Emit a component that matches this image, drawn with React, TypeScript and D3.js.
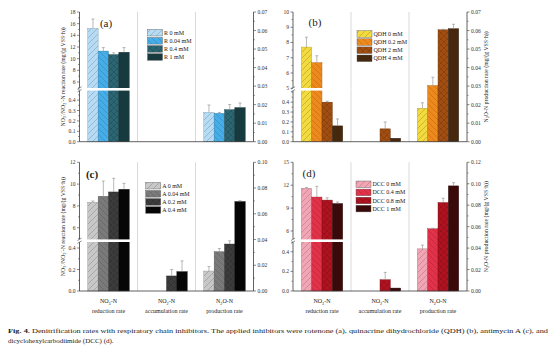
import React from "react";
import * as d3 from "d3";

const categories = ["NO3", "NO2", "N2O"];

const seriesA = ["R 0 mM", "R 0.04 mM", "R 0.4 mM", "R 1 mM"];
const valuesA = [[15.2, 11.3, 10.7, 11.1], [0, 0, 0, 0], [0.0158, 0.0153, 0.0173, 0.0184]];
const errorsA = [[1.6, 0.6, 0.3, 0.8], [0, 0, 0, 0], [0.004, 0.0005, 0.0028, 0.0025]];

const seriesB = ["QDH 0 mM", "QDH 0.2 mM", "QDH 2 mM", "QDH 4 mM"];
const valuesB = [[7.7, 6.68, 0.4, 0.16], [0, 0, 0.13, 0.035], [0.018, 0.0303, 0.0604, 0.061]];
const errorsB = [[0.65, 0.45, 0.01, 0.07], [0, 0, 0.07, 0], [0.003, 0.0045, 0.0003, 0.0024]];

const seriesC = ["A 0 mM", "A 0.04 mM", "A 0.2 mM", "A 0.4 mM"];
const valuesC = [[8.33, 8.88, 9.28, 9.52], [0, 0, 0.14, 0.18], [0.0155, 0.0305, 0.0365, 0.0695]];
const errorsC = [[0.12, 1.4, 1.25, 0.55], [0, 0, 0.06, 0.1], [0.0035, 0.0025, 0.0025, 0.0007]];

const seriesD = ["DCC 0 mM", "DCC 0.4 mM", "DCC 0.8 mM", "DCC 1 mM"];
const valuesD = [[11.6, 10.45, 10.05, 9.6], [0, 0, 0.115, 0.03], [0.0393, 0.058, 0.0825, 0.098]];
const errorsD = [[0.1, 1.4, 0.3, 0.2], [0, 0, 0.075, 0], [0.0035, 0.0005, 0.004, 0.003]];

const upperTicksA = [6, 8, 10, 12, 14, 16, 18];
const lowerTicksA = [0, 0.1, 0.2, 0.3, 0.4];
const rightTicksA = [0, 0.01, 0.02, 0.03, 0.04, 0.05, 0.06, 0.07];
const upperTicksB = [5, 6, 7, 8, 9, 10];
const lowerTicksB = [0, 0.1, 0.2, 0.3, 0.4];
const rightTicksB = [0, 0.01, 0.02, 0.03, 0.04, 0.05, 0.06, 0.07];
const upperTicksC = [6, 8, 10, 12];
const lowerTicksC = [0, 0.2, 0.4];
const rightTicksC = [0, 0.02, 0.04, 0.06, 0.08, 0.1];
const upperTicksD = [6, 9, 12, 15];
const lowerTicksD = [0, 0.2, 0.4];
const rightTicksD = [0, 0.02, 0.04, 0.06, 0.08, 0.1, 0.12];

const FONT = "'Liberation Serif', 'DejaVu Serif', serif";

type Cfg = {
  id: string;
  x0: number; x1: number; yTop: number; yBot: number; breakY: number;
  lower: [number, number]; upper: [number, number]; right: [number, number];
  upperTicks: number[]; upperMinor: number; lowerTicks: number[]; lowerMinor: number;
  rightTicks: number[]; rightMinor: number;
  values: number[][]; errors: number[][]; series: string[]; colors: string[];
  legendX: number; legendY: number; label: string; labelX: number; labelY: number; labelBold?: boolean;
  leftLabel: boolean; rightLabel: boolean; catLabels: boolean;
};

const hatch = ["M-1,1 L1,-1 M0,6 L6,0 M5,7 L7,5", "M-1,5 L1,7 M0,0 L6,6 M5,-1 L7,1", "M-1,1 L1,-1 M0,6 L6,0 M5,7 L7,5 M-1,5 L1,7 M0,0 L6,6 M5,-1 L7,1", ""];

function Chem({ base, sub, rest, fs }: { base: string; sub: string; rest: string; fs: number }) {
  return (
    <>
      {base}
      <tspan dy={fs * 0.25} fontSize={fs * 0.7}>{sub}</tspan>
      <tspan dy={-fs * 0.25}>{rest}</tspan>
    </>
  );
}

function Panel({ c }: { c: Cfg }) {
  const yLow = d3.scaleLinear().domain(c.lower).range([c.yBot, c.breakY]);
  const yUp = d3.scaleLinear().domain(c.upper).range([c.breakY, c.yTop]);
  const yR = d3.scaleLinear().domain(c.right).range([c.yBot, c.yTop]);
  const yLeft = (v: number) => (v <= c.lower[1] ? yLow(v) : yUp(Math.max(v, c.upper[0])));
  const gx = d3.scaleBand<string>().domain(categories).range([c.x0, c.x1]);
  const bx = d3.scaleBand<string>().domain(c.series).range([0, gx.bandwidth()]).paddingOuter(0.8);
  const sep1 = c.x0 + gx.bandwidth();
  const fs = 5.6;
  const ax = "#3a3a3a";

  const minorTicks = (ticks: number[], step: number, dom: [number, number]) => {
    if (!step) return [];
    const out: number[] = [];
    for (let v = dom[0] - (dom[0] % step); v <= dom[1] + 1e-9; v += step) {
      if (v >= dom[0] - 1e-9 && !ticks.some((t) => Math.abs(t - v) < 1e-9)) out.push(v);
    }
    return out;
  };

  return (
    <g>
      <defs>
        {c.colors.map((col, i) => (
          <pattern key={i} id={`${c.id}-p${i}`} patternUnits="userSpaceOnUse" width={6} height={6}>
            <rect width={6} height={6} fill={col} />
            {hatch[i] && <path d={hatch[i]} stroke={d3.color(col)!.darker(i === 0 ? 0.9 : 0.7).toString()} strokeWidth={0.6} fill="none" />}
          </pattern>
        ))}
      </defs>
      {/* separators */}
      {[1, 2].map((k) => (
        <line key={k} x1={c.x0 + k * gx.bandwidth()} x2={c.x0 + k * gx.bandwidth()} y1={c.yTop} y2={c.yBot} stroke="#cfcfcf" strokeWidth={0.8} />
      ))}
      {/* bars */}
      {categories.map((cat, ci) =>
        c.series.map((s, si) => {
          const v = c.values[ci][si];
          if (!v) return null;
          const e = c.errors[ci][si];
          const sc = ci === 2 ? yR : yLeft;
          const x = (gx(cat) as number) + (bx(s) as number);
          const w = bx.bandwidth();
          const yv = sc(v);
          const ye = sc(v + e);
          return (
            <g key={cat + s}>
              <rect x={x} y={yv} width={w} height={c.yBot - yv} fill={`url(#${c.id}-p${si})`} stroke={d3.color(c.colors[si])!.darker(1).toString()} strokeWidth={0.4} />
              {e > 0 && (
                <g stroke="#8a8a8a" strokeWidth={0.6}>
                  <line x1={x + w / 2} x2={x + w / 2} y1={yv} y2={ye} />
                  <line x1={x + w / 2 - 1.5} x2={x + w / 2 + 1.5} y1={ye} y2={ye} />
                </g>
              )}
            </g>
          );
        })
      )}
      {/* break band */}
      <rect x={c.x0 + 0.5} y={c.breakY - 1.3} width={sep1 - c.x0 - 1} height={2.6} fill="#ffffff" />
      {/* axes */}
      <line x1={c.x0} x2={c.x0} y1={c.yTop} y2={c.breakY - 1.5} stroke={ax} strokeWidth={0.8} />
      <line x1={c.x0} x2={c.x0} y1={c.breakY + 1.5} y2={c.yBot} stroke={ax} strokeWidth={0.8} />
      <line x1={c.x0 - 2} x2={c.x0 + 2} y1={c.breakY - 0.2} y2={c.breakY - 2.6} stroke={ax} strokeWidth={0.6} />
      <line x1={c.x0 - 2} x2={c.x0 + 2} y1={c.breakY + 2.6} y2={c.breakY + 0.2} stroke={ax} strokeWidth={0.6} />
      <line x1={c.x1} x2={c.x1} y1={c.yTop} y2={c.yBot} stroke={ax} strokeWidth={0.8} />
      <line x1={c.x0} x2={c.x1} y1={c.yBot} y2={c.yBot} stroke={ax} strokeWidth={0.8} />
      {/* left ticks */}
      {c.upperTicks.map((t) => (
        <g key={"u" + t}>
          <line x1={c.x0 - 2.5} x2={c.x0} y1={yUp(t)} y2={yUp(t)} stroke={ax} strokeWidth={0.6} />
          <text x={c.x0 - 4} y={yUp(t) + 2} fontSize={fs} textAnchor="end" fill="#333">{t}</text>
        </g>
      ))}
      {minorTicks(c.upperTicks, c.upperMinor, c.upper).map((t) => (
        <line key={"um" + t} x1={c.x0 - 1.5} x2={c.x0} y1={yUp(t)} y2={yUp(t)} stroke={ax} strokeWidth={0.5} />
      ))}
      {c.lowerTicks.map((t) => (
        <g key={"l" + t}>
          <line x1={c.x0 - 2.5} x2={c.x0} y1={yLow(t)} y2={yLow(t)} stroke={ax} strokeWidth={0.6} />
          <text x={c.x0 - 4} y={yLow(t) + 2} fontSize={fs} textAnchor="end" fill="#333">{d3.format(".1f")(t)}</text>
        </g>
      ))}
      {minorTicks(c.lowerTicks, c.lowerMinor, c.lower).map((t) => (
        <line key={"lm" + t} x1={c.x0 - 1.5} x2={c.x0} y1={yLow(t)} y2={yLow(t)} stroke={ax} strokeWidth={0.5} />
      ))}
      {/* right ticks */}
      {c.rightTicks.map((t) => (
        <g key={"r" + t}>
          <line x1={c.x1} x2={c.x1 + 2.5} y1={yR(t)} y2={yR(t)} stroke={ax} strokeWidth={0.6} />
          <text x={c.x1 + 4} y={yR(t) + 2} fontSize={fs} textAnchor="start" fill="#333">{d3.format(".2f")(t)}</text>
        </g>
      ))}
      {minorTicks(c.rightTicks, c.rightMinor, c.right).map((t) => (
        <line key={"rm" + t} x1={c.x1} x2={c.x1 + 1.5} y1={yR(t)} y2={yR(t)} stroke={ax} strokeWidth={0.5} />
      ))}
      {/* panel label */}
      <text x={c.labelX} y={c.labelY} fontSize={11} textAnchor="middle" fontWeight={c.labelBold ? "bold" : "normal"} fill="#222">{c.label}</text>
      {/* legend */}
      {c.series.map((s, i) => (
        <g key={"lg" + s}>
          <rect x={c.legendX} y={c.legendY + i * 8.1 - 3.3} width={15} height={6.6} fill={`url(#${c.id}-p${i})`} stroke="#555" strokeWidth={0.4} />
          <text x={c.legendX + 16.5} y={c.legendY + i * 8.1 + 2} fontSize={6} fill="#222">{s}</text>
        </g>
      ))}
      {/* axis titles */}
      {c.leftLabel && (
        <text transform={`translate(${c.x0 - 15},${(c.yTop + c.yBot) / 2}) rotate(-90)`} fontSize={5.8} textAnchor="middle" fill="#222">
          NO<tspan dy={1.4} fontSize={4}>3</tspan><tspan dy={-3.4} fontSize={4}>-</tspan><tspan dy={2}>/NO</tspan>
          <tspan dy={1.4} fontSize={4}>2</tspan><tspan dy={-3.4} fontSize={4}>-</tspan><tspan dy={2}>-N reaction rate (mg/(g VSS·h))</tspan>
        </text>
      )}
      {c.rightLabel && (
        <text transform={`translate(${c.x1 + 21},${(c.yTop + c.yBot) / 2}) rotate(-90)`} fontSize={5.8} textAnchor="middle" fill="#222">
          <Chem base="N" sub="2" rest="O-N production rate (mg/(g VSS·h))" fs={5.8} />
        </text>
      )}
      {c.catLabels && (
        <g fontSize={6} fill="#222" textAnchor="middle">
          <text x={(gx("NO3") as number) + gx.bandwidth() / 2} y={c.yBot + 12}><Chem base="NO" sub="3" rest="-N" fs={6} /></text>
          <text x={(gx("NO3") as number) + gx.bandwidth() / 2} y={c.yBot + 22}>reduction rate</text>
          <text x={(gx("NO2") as number) + gx.bandwidth() / 2} y={c.yBot + 12}><Chem base="NO" sub="2" rest="-N" fs={6} /></text>
          <text x={(gx("NO2") as number) + gx.bandwidth() / 2} y={c.yBot + 22}>accumulation rate</text>
          <text x={(gx("N2O") as number) + gx.bandwidth() / 2} y={c.yBot + 12}><Chem base="N" sub="2" rest="O-N" fs={6} /></text>
          <text x={(gx("N2O") as number) + gx.bandwidth() / 2} y={c.yBot + 22}>production rate</text>
        </g>
      )}
    </g>
  );
}

const LX0 = 79.5, LX1 = 253.5, RX0 = 293, RX1 = 467;

const panels: Cfg[] = [
  {
    id: "a", x0: LX0, x1: LX1, yTop: 12, yBot: 141.7, breakY: 89.3,
    lower: [0, 0.504], upper: [4.75, 18], right: [0, 0.07],
    upperTicks: upperTicksA, upperMinor: 1, lowerTicks: lowerTicksA, lowerMinor: 0.05, rightTicks: rightTicksA, rightMinor: 0.005,
    values: valuesA, errors: errorsA, series: seriesA, colors: ["#b5dcf4", "#45ade8", "#2b6673", "#173a3f"],
    legendX: 147.5, legendY: 32.7, label: "(a)", labelX: 106, labelY: 27, leftLabel: true, rightLabel: false, catLabels: false,
  },
  {
    id: "b", x0: RX0, x1: RX1, yTop: 12, yBot: 141.7, breakY: 89.3,
    lower: [0, 0.53], upper: [4.93, 10], right: [0, 0.07],
    upperTicks: upperTicksB, upperMinor: 0.5, lowerTicks: lowerTicksB, lowerMinor: 0.05, rightTicks: rightTicksB, rightMinor: 0.005,
    values: valuesB, errors: errorsB, series: seriesB, colors: ["#f3da3e", "#ee8a1d", "#a24e12", "#45280e"],
    legendX: 357, legendY: 34, label: "(b)", labelX: 315, labelY: 26, leftLabel: false, rightLabel: true, catLabels: false,
  },
  {
    id: "c", x0: LX0, x1: LX1, yTop: 162.3, yBot: 291, breakY: 240.7,
    lower: [0, 0.468], upper: [4.81, 12], right: [0, 0.1],
    upperTicks: upperTicksC, upperMinor: 1, lowerTicks: lowerTicksC, lowerMinor: 0.1, rightTicks: rightTicksC, rightMinor: 0.01,
    values: valuesC, errors: errorsC, series: seriesC, colors: ["#c8c8c8", "#7a7a7a", "#3c3c3c", "#060606"],
    legendX: 145.7, legendY: 185.7, label: "(c)", labelX: 92, labelY: 178, labelBold: true, leftLabel: true, rightLabel: false, catLabels: true,
  },
  {
    id: "d", x0: RX0, x1: RX1, yTop: 162.3, yBot: 291, breakY: 240.7,
    lower: [0, 0.513], upper: [4.73, 15], right: [0, 0.12],
    upperTicks: upperTicksD, upperMinor: 1.5, lowerTicks: lowerTicksD, lowerMinor: 0.1, rightTicks: rightTicksD, rightMinor: 0.01,
    values: valuesD, errors: errorsD, series: seriesD, colors: ["#f2a5b4", "#e2324a", "#b0121f", "#3a0909"],
    legendX: 356, legendY: 184.3, label: "(d)", labelX: 309, labelY: 177, leftLabel: false, rightLabel: true, catLabels: true,
  },
];

export default function App() {
  return (
    <svg width={554} height={348} style={{ position: "absolute", left: 0, top: 0, background: "#fff" }} fontFamily={FONT}>
      <rect width={554} height={348} fill="#fff" />
      {panels.map((p) => (
        <Panel key={p.id} c={p} />
      ))}
      <text x={8} y={333} fontSize={7} fill="#222" textLength={540} lengthAdjust="spacingAndGlyphs">
        <tspan fontWeight="bold" fill="#1a1a1a">Fig. 4.</tspan> Denitrification rates with respiratory chain inhibitors. The applied inhibitors were rotenone (a), quinacrine dihydrochloride (QDH) (b), antimycin A (c), and
      </text>
      <text x={8} y={343} fontSize={7} fill="#222">dicyclohexylcarbodiimide (DCC) (d).</text>
    </svg>
  );
}
